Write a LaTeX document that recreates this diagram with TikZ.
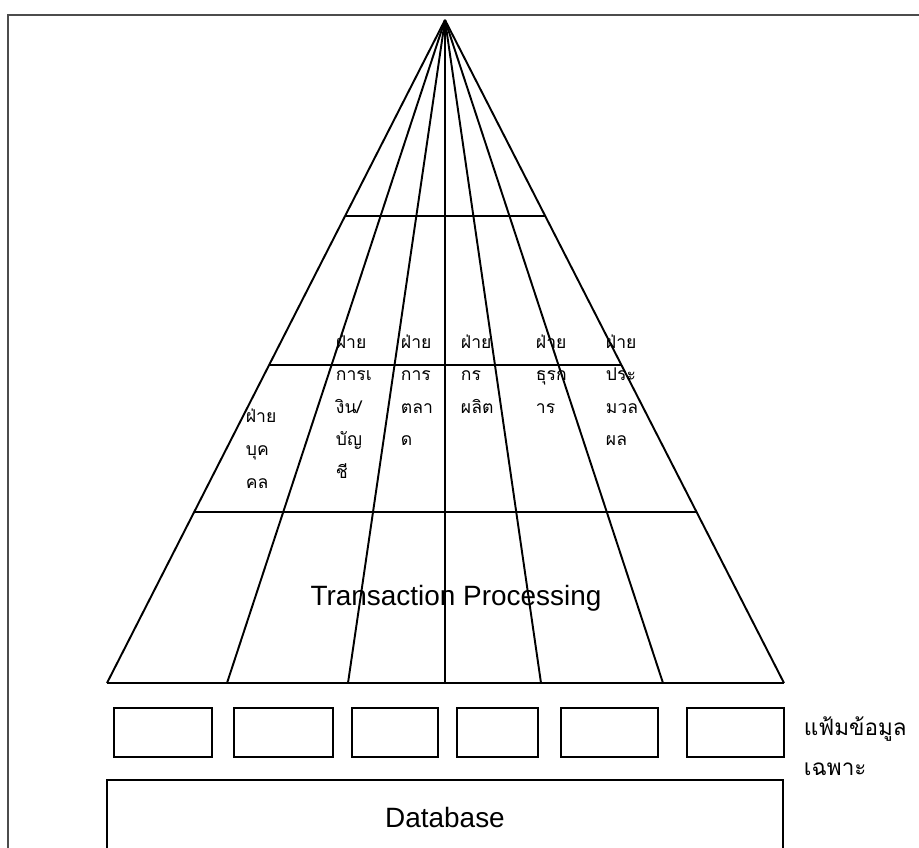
\documentclass[tikz,border=0pt]{standalone}
\usepackage{fontspec}
\setmainfont{Liberation Sans}
\newfontfamily\thaifont[Script=Thai]{Loma}
\usetikzlibrary{calc}

\begin{document}
\begin{tikzpicture}[x=.02cm,y=-.02cm,line width=1.1pt,
	dept/.style={anchor=base west,inner sep=0pt,font=\thaifont\fontsize{10}{12}\selectfont},
	filelabel/.style={anchor=base west,inner sep=0pt,font=\thaifont\fontsize{12.8}{15}\selectfont},
	big/.style={anchor=base,inner sep=0pt,font=\fontsize{15.9}{19}\selectfont}]
	\useasboundingbox (0,0) rectangle (919,848);
	
	% frame
	\draw[line width=.8pt,black!70] (8,848) -- (8,15) -- (919,15);
	
	% pyramid
	\coordinate (top) at (445,20);
	\foreach \x [count=\i from 0] in {107,227,348,445,541,663,784}
		\coordinate (b\i) at (\x,683);
	\foreach \i in {0,...,6}{
		\draw (top) -- (b\i);
	}
	\draw (b0) -- (b6);
	
	% levels
	\foreach \t in {.2956,.5204,.742}{
		\draw ($(top)!\t!(b0)$) -- ($(top)!\t!(b6)$);
	}
	
	% departments
	\foreach \w [count=\k] in {ฝ่าย,บุค,คล}
		\node[dept] (pa\k) at (245,{422+33*(\k-1)}) {\w};
	\foreach \w [count=\k] in {ฝ่าย,การเ,งิน/,บัญ,ชี}
		\node[dept] (pb\k) at (335,{348+32.5*(\k-1)}) {\w};
	\foreach \w [count=\k] in {ฝ่าย,การ,ตลา,ด}
		\node[dept] (pc\k) at (400,{348+32.5*(\k-1)}) {\w};
	\foreach \w [count=\k] in {ฝ่าย,กร,ผลิต}
		\node[dept] (pd\k) at (460,{348+32.5*(\k-1)}) {\w};
	\foreach \w [count=\k] in {ฝ่าย,ธุรก,าร}
		\node[dept] (pe\k) at (535,{348+32.5*(\k-1)}) {\w};
	\foreach \w [count=\k] in {ฝ่าย,ประ,มวล,ผล}
		\node[dept] (pf\k) at (605,{348+32.5*(\k-1)}) {\w};
	
	\node[big] (tp) at (456,605) {Transaction Processing};
	
	% files
	\foreach \l/\r in {114/212,234/333,352/438,457/538,561/658,687/784}{
		\draw (\l,708) rectangle (\r,757);
	}
	\node[filelabel] (file1) at (803,735) {แฟ้มข้อมูล};
	\node[filelabel] (file2) at (803,775) {เฉพาะ};
	
	% database
	\draw (107,848) -- (107,780) -- (783,780) -- (783,848);
	\node[big] (db) at (445,827) {Database};
\end{tikzpicture}
\end{document}
